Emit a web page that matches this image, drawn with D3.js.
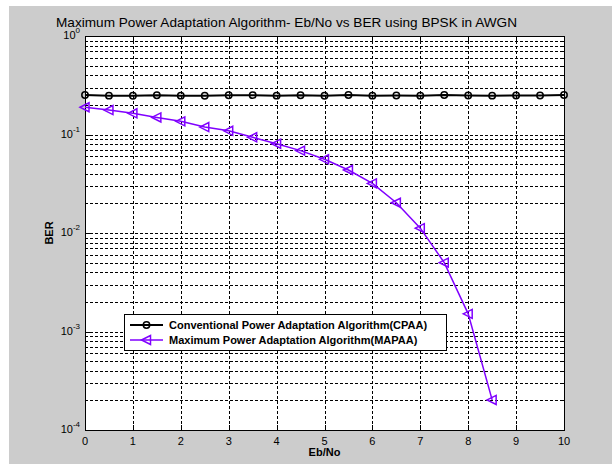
<!DOCTYPE html>
<html>
  <head>
    <meta charset="utf-8">
    <script src="https://cdn.jsdelivr.net/npm/d3@7"></script>
    <style>
      body { margin: 0; background: #fff; }
      text { font-family: Arial, "Liberation Sans", sans-serif; }
    </style>
  </head>
  <body>
<svg id="chart" width="612" height="464"></svg>
<script>
var ebno = [0, 0.5, 1, 1.5, 2, 2.5, 3, 3.5, 4, 4.5, 5, 5.5, 6, 6.5, 7, 7.5, 8, 8.5, 9, 9.5, 10];
var cpaa = [0.252, 0.248, 0.247, 0.250, 0.248, 0.247, 0.250, 0.251, 0.248, 0.250, 0.247, 0.252, 0.248, 0.249, 0.248, 0.252, 0.249, 0.248, 0.249, 0.249, 0.252];
var mapaa = [0.189, 0.177, 0.164, 0.149, 0.136, 0.119, 0.109, 0.0936, 0.0807, 0.0686, 0.056, 0.0436, 0.0319, 0.0203, 0.0112, 0.0050, 0.00151, 0.000202];
var xTicks = [0, 1, 2, 3, 4, 5, 6, 7, 8, 9, 10];
var yExp = [0, -1, -2, -3, -4];
var legendLabels = ['Conventional Power Adaptation Algorithm(CPAA)', 'Maximum Power Adaptation Algorithm(MAPAA)'];

var svg = d3.select('#chart');
var pl = 85, pt = 36, pr = 564, pb = 430;
var purple = '#8000ff';

svg.append('rect').attr('x', 9).attr('y', 6).attr('width', 603).attr('height', 458).attr('fill', '#cccccc');

var x = d3.scaleLinear().domain([0, 10]).range([pl, pr]);
var y = d3.scaleLog().domain([1e-4, 1]).range([pb, pt]);

svg.append('rect').attr('x', pl).attr('y', pt)
  .attr('width', pr - pl).attr('height', pb - pt).attr('fill', '#fff');

// grid lines
var minor = [];
yExp.slice(1).forEach(function (e) {
  for (var k = 1; k <= 9; k++) minor.push(k * Math.pow(10, e));
});
var grid = svg.append('g').attr('stroke', '#000').attr('stroke-width', 1)
  .attr('stroke-dasharray', '3,2').attr('shape-rendering', 'crispEdges');
grid.selectAll('.gy').data(minor.filter(function (v) { return v > 1e-4 && v < 1; }))
  .enter().append('line')
  .attr('x1', pl).attr('x2', pr)
  .attr('y1', function (d) { return Math.round(y(d)) + 0.5; })
  .attr('y2', function (d) { return Math.round(y(d)) + 0.5; });
grid.selectAll('.gx').data(xTicks.slice(1, -1))
  .enter().append('line')
  .attr('y1', pt).attr('y2', pb)
  .attr('x1', function (d) { return Math.round(x(d)) + 0.5; })
  .attr('x2', function (d) { return Math.round(x(d)) + 0.5; });

// ticks
var ticks = svg.append('g').attr('stroke', '#000').attr('shape-rendering', 'crispEdges');
minor.forEach(function (v) {
  var len = (Math.abs(Math.log10(v) - Math.round(Math.log10(v))) < 1e-9) ? 5 : 3;
  var yy = Math.round(y(v)) + 0.5;
  ticks.append('line').attr('x1', pl).attr('x2', pl + len).attr('y1', yy).attr('y2', yy);
  ticks.append('line').attr('x1', pr - len).attr('x2', pr).attr('y1', yy).attr('y2', yy);
});
xTicks.forEach(function (v) {
  var xx = Math.round(x(v)) + 0.5;
  ticks.append('line').attr('x1', xx).attr('x2', xx).attr('y1', pb - 5).attr('y2', pb);
  ticks.append('line').attr('x1', xx).attr('x2', xx).attr('y1', pt).attr('y2', pt + 5);
});

// axes frame
svg.append('rect').attr('x', pl + 0.5).attr('y', pt + 0.5)
  .attr('width', pr - pl).attr('height', pb - pt)
  .attr('fill', 'none').attr('stroke', '#000').attr('shape-rendering', 'crispEdges');

// tick labels
svg.append('g').selectAll('text').data(xTicks).enter().append('text')
  .attr('x', function (d) { return x(d); }).attr('y', 445)
  .attr('text-anchor', 'middle').attr('font-size', 11).text(function (d) { return d; });

var yl = svg.append('g').selectAll('text').data(yExp).enter().append('text')
  .attr('x', 80).attr('y', function (d) { return y(Math.pow(10, d)) + 3; })
  .attr('text-anchor', 'end').attr('font-size', 11);
yl.append('tspan').text('10');
yl.append('tspan').attr('dy', -6).attr('font-size', 8).text(function (d) { return d; });

// labels
svg.append('text').attr('x', 56).attr('y', 27).attr('text-anchor', 'start')
  .attr('font-size', 13.6).attr('textLength', 461)
  .text('Maximum Power Adaptation Algorithm- Eb/No vs BER using BPSK in AWGN');
svg.append('text').attr('x', x(5)).attr('y', 456).attr('text-anchor', 'middle')
  .attr('font-size', 11).attr('font-weight', 'bold').text('Eb/No');
svg.append('text').attr('transform', 'translate(53,' + y(0.01) + ') rotate(-90)')
  .attr('text-anchor', 'middle').attr('font-size', 11).attr('font-weight', 'bold').text('BER');

// series
var line = d3.line().x(function (d) { return x(d[0]); }).y(function (d) { return y(d[1]); });
var cData = ebno.map(function (e, i) { return [e, cpaa[i]]; });
var mData = mapaa.map(function (v, i) { return [ebno[i], v]; });

svg.append('path').attr('d', line(cData)).attr('fill', 'none').attr('stroke', '#000').attr('stroke-width', 2);
svg.append('path').attr('d', line(mData)).attr('fill', 'none').attr('stroke', purple).attr('stroke-width', 1.5);

function tri(g, cx, cy) {
  g.append('path')
    .attr('d', 'M' + (cx - 5) + ',' + cy + 'L' + (cx + 4) + ',' + (cy - 4.5) + 'L' + (cx + 4) + ',' + (cy + 4.5) + 'Z')
    .attr('fill', 'none').attr('stroke', purple).attr('stroke-width', 1.5);
}
function circ(g, cx, cy) {
  g.append('circle').attr('cx', cx).attr('cy', cy).attr('r', 3.2)
    .attr('fill', 'none').attr('stroke', '#000').attr('stroke-width', 1.5);
}
var mk = svg.append('g');
cData.forEach(function (d) { circ(mk, x(d[0]), y(d[1])); });
mData.forEach(function (d) { tri(mk, x(d[0]), y(d[1])); });

// legend
var lg = svg.append('g');
lg.append('rect').attr('x', 124.5).attr('y', 314.5).attr('width', 322).attr('height', 36)
  .attr('fill', '#fff').attr('stroke', '#000').attr('shape-rendering', 'crispEdges');
var ly = [325, 340];
lg.append('line').attr('x1', 130).attr('x2', 163).attr('y1', ly[0]).attr('y2', ly[0]).attr('stroke', '#000').attr('stroke-width', 2);
circ(lg, 146.5, ly[0]);
lg.append('line').attr('x1', 130).attr('x2', 163).attr('y1', ly[1]).attr('y2', ly[1]).attr('stroke', purple).attr('stroke-width', 1.5);
tri(lg, 146.5, ly[1]);
lg.selectAll('.lt').data(legendLabels).enter().append('text')
  .attr('x', 169).attr('y', function (d, i) { return ly[i] + 4; })
  .attr('font-size', 11).attr('font-weight', 'bold').text(function (d) { return d; });
</script>
</body>
</html>
